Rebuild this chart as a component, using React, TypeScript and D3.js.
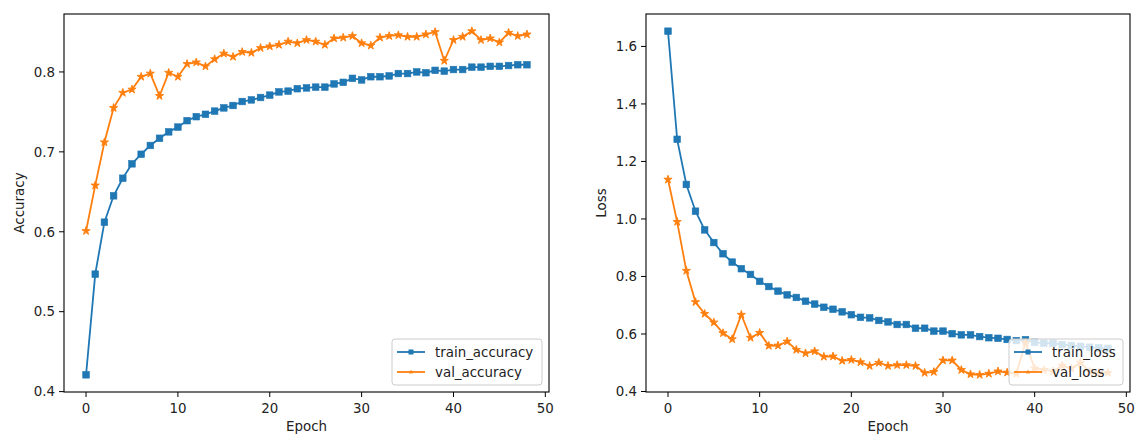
import React from "react";
import * as d3 from "d3";

const trainAccuracy = [
  0.421, 0.547, 0.612, 0.645, 0.667, 0.685, 0.697, 0.708, 0.717, 0.725,
  0.731, 0.739, 0.744, 0.747, 0.751, 0.755, 0.758, 0.763, 0.765, 0.768,
  0.771, 0.775, 0.776, 0.779, 0.780, 0.781, 0.781, 0.785, 0.787, 0.792,
  0.790, 0.794, 0.794, 0.795, 0.798, 0.798, 0.800, 0.799, 0.802, 0.801,
  0.803, 0.803, 0.806, 0.806, 0.807, 0.807, 0.808, 0.809, 0.809,
];
const valAccuracy = [
  0.601, 0.658, 0.712, 0.755, 0.774, 0.778, 0.794, 0.798, 0.770, 0.799,
  0.794, 0.810, 0.812, 0.807, 0.816, 0.823, 0.819, 0.825, 0.824, 0.830,
  0.832, 0.834, 0.838, 0.836, 0.840, 0.838, 0.834, 0.842, 0.843, 0.845,
  0.836, 0.833, 0.843, 0.845, 0.846, 0.844, 0.844, 0.847, 0.850, 0.814,
  0.840, 0.844, 0.851, 0.840, 0.842, 0.837, 0.849, 0.845, 0.847,
];
const trainLoss = [
  1.653, 1.277, 1.120, 1.027, 0.962, 0.918, 0.879, 0.850, 0.827, 0.807,
  0.783, 0.765, 0.749, 0.736, 0.727, 0.714, 0.704, 0.693, 0.686, 0.677,
  0.667, 0.658, 0.656, 0.647, 0.642, 0.633, 0.633, 0.620, 0.620, 0.610,
  0.610, 0.601, 0.597, 0.597, 0.591, 0.587, 0.585, 0.581, 0.577, 0.580,
  0.571, 0.568, 0.568, 0.563, 0.560, 0.557, 0.554, 0.552, 0.550,
];
const valLoss = [
  1.137, 0.990, 0.820, 0.711, 0.670, 0.640, 0.603, 0.582, 0.667, 0.587,
  0.604, 0.559, 0.560, 0.574, 0.545, 0.533, 0.540, 0.521, 0.522, 0.507,
  0.510, 0.502, 0.489, 0.500, 0.489, 0.492, 0.492, 0.489, 0.465, 0.468,
  0.508, 0.508, 0.475, 0.460, 0.458, 0.462, 0.470, 0.466, 0.462, 0.570,
  0.480, 0.475, 0.470, 0.490, 0.480, 0.500, 0.470, 0.465, 0.465,
];
const xTicks = [0, 10, 20, 30, 40, 50];
const accTicks = [0.4, 0.5, 0.6, 0.7, 0.8];
const lossTicks = [0.4, 0.6, 0.8, 1.0, 1.2, 1.4, 1.6];
const accLabels = ["train_accuracy", "val_accuracy"];
const lossLabels = ["train_loss", "val_loss"];

const BLUE = "#1f77b4";
const ORANGE = "#ff7f0e";
const FONT = "DejaVu Sans";
const FS = 13.4;

const starPath = d3.symbol().type(d3.symbolStar).size(21)()!;
const starPathSmall = d3.symbol().type(d3.symbolStar).size(9)()!;

type PanelProps = {
  left: number;
  right: number;
  top: number;
  bottom: number;
  a: number[];
  b: number[];
  yTicks: number[];
  yLabel: string;
  labels: string[];
  legendWidth: number;
};

function Panel({ left, right, top, bottom, a, b, yTicks, yLabel, labels, legendWidth }: PanelProps) {
  const n = a.length;
  const x = d3.scaleLinear().domain([-0.05 * (n - 1), (n - 1) * 1.05]).range([left, right]);
  const all = a.concat(b);
  const mn = d3.min(all)!;
  const mx = d3.max(all)!;
  const r = mx - mn;
  const y = d3.scaleLinear().domain([mn - 0.05 * r, mx + 0.05 * r]).range([bottom, top]);
  const line = d3.line<number>().x((_, i) => x(i)).y((d) => y(d));
  const xt = xTicks.filter((t) => x(t) <= right + 0.5);
  const ms = 6.6;
  const lx = right - 7 - legendWidth;
  const ly = bottom - 7 - 46;
  return (
    <g>
      <path d={line(a)!} fill="none" stroke={BLUE} strokeWidth={1.8} />
      {a.map((d, i) => (
        <rect key={"a" + i} x={x(i) - ms / 2} y={y(d) - ms / 2} width={ms} height={ms} fill={BLUE} stroke={BLUE} strokeWidth={0.6} />
      ))}
      <path d={line(b)!} fill="none" stroke={ORANGE} strokeWidth={1.8} />
      {b.map((d, i) => (
        <path key={"b" + i} d={starPath} transform={`translate(${x(i)},${y(d)})`} fill={ORANGE} stroke={ORANGE} strokeWidth={0.9} />
      ))}
      <rect x={left} y={top} width={right - left} height={bottom - top} fill="none" stroke="#000" strokeWidth={1.1} />
      {xt.map((t) => (
        <g key={"x" + t}>
          <line x1={x(t)} x2={x(t)} y1={bottom} y2={bottom + 5} stroke="#000" strokeWidth={1} />
          <text x={x(t)} y={bottom + 21} textAnchor="middle" fontSize={FS} fontFamily={FONT} fill="#222">
            {t}
          </text>
        </g>
      ))}
      {yTicks.map((t) => (
        <g key={"y" + t}>
          <line x1={left - 5} x2={left} y1={y(t)} y2={y(t)} stroke="#000" strokeWidth={1} />
          <text x={left - 9} y={y(t) + 4.8} textAnchor="end" fontSize={FS} fontFamily={FONT} fill="#222">
            {t.toFixed(1)}
          </text>
        </g>
      ))}
      <text x={(left + right) / 2} y={bottom + 39} textAnchor="middle" fontSize={FS} fontFamily={FONT} fill="#222">
        Epoch
      </text>
      <text
        transform={`translate(${left - 40},${(top + bottom) / 2}) rotate(-90)`}
        textAnchor="middle"
        fontSize={FS}
        fontFamily={FONT}
        fill="#222"
      >
        {yLabel}
      </text>
      <g>
        <rect x={lx} y={ly} width={legendWidth} height={46} rx={3} fill="#fff" fillOpacity={0.8} stroke="#cccccc" strokeWidth={1} />
        <line x1={lx + 5} x2={lx + 33} y1={ly + 13} y2={ly + 13} stroke={BLUE} strokeWidth={1.8} />
        <rect x={lx + 19 - 2.5} y={ly + 13 - 2.5} width={5} height={5} fill={BLUE} />
        <text x={lx + 43} y={ly + 17.8} fontSize={FS} fontFamily={FONT} fill="#222">
          {labels[0]}
        </text>
        <line x1={lx + 5} x2={lx + 33} y1={ly + 33} y2={ly + 33} stroke={ORANGE} strokeWidth={1.8} />
        <path d={starPathSmall} transform={`translate(${lx + 19},${ly + 33})`} fill={ORANGE} />
        <text x={lx + 43} y={ly + 37.8} fontSize={FS} fontFamily={FONT} fill="#222">
          {labels[1]}
        </text>
      </g>
    </g>
  );
}

export default function App() {
  return (
    <svg width={1143} height={445} style={{ position: "absolute", left: 0, top: 0, background: "#fff" }}>
      <rect width={1143} height={445} fill="#fff" />
      <Panel left={64} right={549} top={14} bottom={392} a={trainAccuracy} b={valAccuracy} yTicks={accTicks} yLabel="Accuracy" labels={accLabels} legendWidth={150} />
      <Panel left={646} right={1130} top={14} bottom={392} a={trainLoss} b={valLoss} yTicks={lossTicks} yLabel="Loss" labels={lossLabels} legendWidth={114} />
    </svg>
  );
}
